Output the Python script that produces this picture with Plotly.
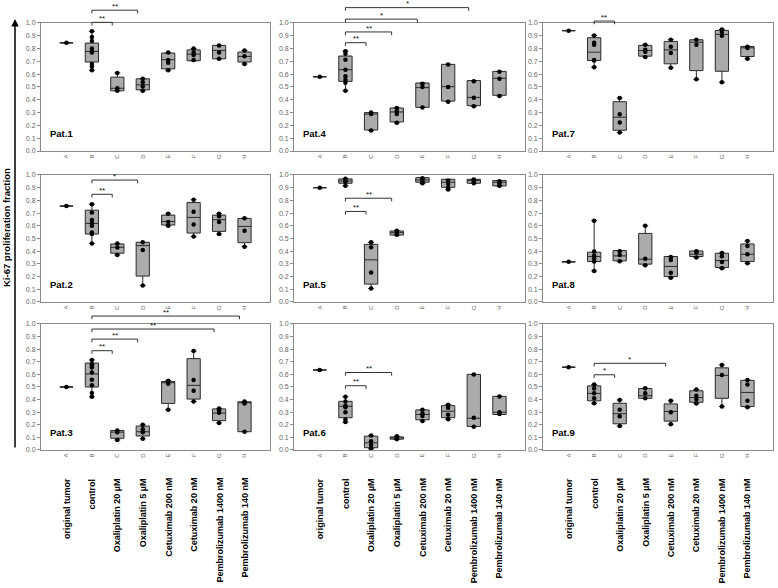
import plotly.graph_objects as go

letters = ["A", "B", "C", "D", "E", "F", "G", "H"]
treatments = ["original tumor", "control", "Oxaliplatin 20 µM", "Oxaliplatin 5 µM",
              "Cetuximab 200 nM", "Cetuximab 20 nM", "Pembrolizumab 1400 nM", "Pembrolizumab 140 nM"]
patients = ["Pat.1", "Pat.2", "Pat.3", "Pat.4", "Pat.5", "Pat.6", "Pat.7", "Pat.8", "Pat.9"]

# individual measurements per treatment (A..H) for each patient
pat1_points = [[0.845], [0.935, 0.89, 0.86, 0.80, 0.78, 0.77, 0.68, 0.66, 0.63], [0.61, 0.49, 0.47],
               [0.564, 0.538, 0.504, 0.47], [0.77, 0.71, 0.69, 0.63], [0.80, 0.77, 0.75, 0.71],
               [0.825, 0.77, 0.72], [0.785, 0.74, 0.68]]
pat1_q1 = [0.845, 0.695, 0.47, 0.478, 0.642, 0.705, 0.72, 0.695]
pat1_med = [0.845, 0.778, 0.49, 0.517, 0.713, 0.757, 0.786, 0.739]
pat1_q3 = [0.845, 0.843, 0.577, 0.564, 0.765, 0.79, 0.825, 0.773]

pat2_points = [[0.755], [0.77, 0.705, 0.645, 0.62, 0.60, 0.548, 0.535, 0.46], [0.46, 0.43, 0.37],
               [0.47, 0.41, 0.13], [0.695, 0.63, 0.60], [0.805, 0.71, 0.61, 0.515],
               [0.695, 0.675, 0.63, 0.535], [0.66, 0.56, 0.435]]
pat2_q1 = [0.755, 0.535, 0.384, 0.204, 0.606, 0.543, 0.556, 0.467]
pat2_med = [0.755, 0.619, 0.431, 0.444, 0.634, 0.666, 0.648, 0.595]
pat2_q3 = [0.755, 0.723, 0.457, 0.47, 0.684, 0.783, 0.684, 0.658]

pat3_points = [[0.50], [0.715, 0.68, 0.67, 0.655, 0.615, 0.557, 0.513, 0.453, 0.422], [0.155, 0.14, 0.08],
               [0.20, 0.165, 0.14, 0.09], [0.55, 0.525, 0.32], [0.785, 0.555, 0.47, 0.385],
               [0.33, 0.315, 0.295, 0.215], [0.385, 0.37, 0.145]]
pat3_q1 = [0.50, 0.50, 0.093, 0.111, 0.37, 0.404, 0.233, 0.145]
pat3_med = [0.50, 0.604, 0.142, 0.145, 0.534, 0.513, 0.293, 0.376]
pat3_q3 = [0.50, 0.69, 0.155, 0.19, 0.544, 0.725, 0.326, 0.383]

pat4_points = [[0.58], [0.78, 0.76, 0.713, 0.635, 0.583, 0.557, 0.534, 0.47], [0.30, 0.29, 0.16],
               [0.335, 0.31, 0.29, 0.22], [0.525, 0.50, 0.34], [0.675, 0.50, 0.385],
               [0.545, 0.415, 0.35], [0.62, 0.565, 0.43]]
pat4_q1 = [0.58, 0.544, 0.164, 0.227, 0.341, 0.39, 0.354, 0.435]
pat4_med = [0.58, 0.635, 0.288, 0.305, 0.495, 0.503, 0.419, 0.568]
pat4_q3 = [0.58, 0.742, 0.30, 0.336, 0.531, 0.677, 0.55, 0.622]

pat5_points = [[0.90], [0.97, 0.95, 0.945, 0.915], [0.47, 0.431, 0.232, 0.107],
               [0.56, 0.545, 0.53], [0.975, 0.96, 0.945, 0.935], [0.955, 0.93, 0.90, 0.885],
               [0.965, 0.945, 0.935], [0.95, 0.935, 0.915]]
pat5_q1 = [0.90, 0.935, 0.141, 0.527, 0.943, 0.903, 0.935, 0.914]
pat5_med = [0.90, 0.953, 0.332, 0.546, 0.961, 0.943, 0.956, 0.943]
pat5_q3 = [0.90, 0.969, 0.454, 0.559, 0.979, 0.966, 0.966, 0.956]

pat6_points = [[0.635], [0.423, 0.384, 0.352, 0.34, 0.30, 0.243, 0.222], [0.115, 0.07, 0.04, 0.01],
               [0.11, 0.095, 0.085], [0.32, 0.29, 0.27, 0.23], [0.36, 0.335, 0.28, 0.245],
               [0.60, 0.255, 0.185], [0.425, 0.30, 0.285]]
pat6_q1 = [0.635, 0.256, 0.018, 0.086, 0.24, 0.256, 0.187, 0.282]
pat6_med = [0.635, 0.347, 0.057, 0.097, 0.282, 0.308, 0.252, 0.30]
pat6_q3 = [0.635, 0.386, 0.11, 0.104, 0.318, 0.352, 0.60, 0.426]

pat7_points = [[0.94], [0.903, 0.846, 0.83, 0.71, 0.707, 0.655], [0.414, 0.288, 0.223, 0.144],
               [0.83, 0.79, 0.775, 0.735], [0.87, 0.815, 0.765, 0.65], [0.87, 0.83, 0.56],
               [0.95, 0.93, 0.90, 0.537], [0.815, 0.805, 0.72]]
pat7_q1 = [0.94, 0.707, 0.162, 0.741, 0.681, 0.628, 0.623, 0.738]
pat7_med = [0.94, 0.772, 0.264, 0.785, 0.79, 0.85, 0.911, 0.806]
pat7_q3 = [0.94, 0.885, 0.385, 0.825, 0.856, 0.869, 0.942, 0.817]

pat8_points = [[0.316], [0.64, 0.397, 0.366, 0.345, 0.319, 0.245], [0.40, 0.37, 0.32],
               [0.60, 0.34, 0.29], [0.355, 0.33, 0.23, 0.19], [0.40, 0.39, 0.35],
               [0.385, 0.36, 0.315, 0.265], [0.48, 0.44, 0.375, 0.305]]
pat8_q1 = [0.316, 0.319, 0.324, 0.298, 0.20, 0.358, 0.272, 0.319]
pat8_med = [0.316, 0.358, 0.363, 0.337, 0.28, 0.376, 0.326, 0.376]
pat8_q3 = [0.316, 0.392, 0.405, 0.54, 0.358, 0.402, 0.384, 0.457]

pat9_points = [[0.657], [0.52, 0.488, 0.45, 0.41, 0.371], [0.397, 0.32, 0.268, 0.19],
               [0.49, 0.45, 0.41], [0.39, 0.30, 0.205], [0.48, 0.43, 0.40, 0.37],
               [0.675, 0.595, 0.345], [0.555, 0.52, 0.39, 0.34]]
pat9_q1 = [0.657, 0.39, 0.208, 0.41, 0.229, 0.379, 0.41, 0.345]
pat9_med = [0.657, 0.449, 0.288, 0.431, 0.306, 0.416, 0.592, 0.457]
pat9_q3 = [0.657, 0.509, 0.371, 0.488, 0.366, 0.47, 0.652, 0.553]

# significance brackets: (from index, to index, bracket height, label)
pat1_sig = [(1, 2, 1.005, "**"), (1, 3, 1.10, "**")]
pat2_sig = [(1, 2, 0.848, "**"), (1, 3, 0.96, "*")]
pat3_sig = [(1, 2, 0.788, "**"), (1, 3, 0.88, "**"), (1, 6, 0.96, "**"), (1, 7, 1.063, "**")]
pat4_sig = [(1, 2, 0.846, "**"), (1, 3, 0.93, "**"), (1, 4, 1.03, "*"), (1, 6, 1.12, "*")]
pat5_sig = [(1, 2, 0.713, "**"), (1, 3, 0.817, "**")]
pat6_sig = [(1, 2, 0.51, "**"), (1, 3, 0.615, "**")]
pat7_sig = [(1, 2, 1.015, "**")]
pat8_sig = []
pat9_sig = [(1, 2, 0.597, "*"), (1, 4, 0.688, "*")]

all_points = [pat1_points, pat2_points, pat3_points, pat4_points, pat5_points,
              pat6_points, pat7_points, pat8_points, pat9_points]
all_q1 = [pat1_q1, pat2_q1, pat3_q1, pat4_q1, pat5_q1, pat6_q1, pat7_q1, pat8_q1, pat9_q1]
all_med = [pat1_med, pat2_med, pat3_med, pat4_med, pat5_med, pat6_med, pat7_med, pat8_med, pat9_med]
all_q3 = [pat1_q3, pat2_q3, pat3_q3, pat4_q3, pat5_q3, pat6_q3, pat7_q3, pat8_q3, pat9_q3]
all_sig = [pat1_sig, pat2_sig, pat3_sig, pat4_sig, pat5_sig, pat6_sig, pat7_sig, pat8_sig, pat9_sig]

W, H = 778, 588
col_dom = [(0.0527, 0.347), (0.378, 0.675), (0.698, 0.9936)]
row_dom = [(0.7432, 0.9609), (0.4864, 0.7024), (0.2347, 0.449)]

FONT = "Liberation Sans, Arial, sans-serif"
AXC = "#8a8a8a"
fig = go.Figure()
layout = dict(width=W, height=H, margin=dict(l=0, r=0, t=0, b=0, autoexpand=False),
              paper_bgcolor="white", plot_bgcolor="white", showlegend=False,
              font=dict(family=FONT, color="#555"))
shapes, annotations = [], []
positions = list(range(len(letters)))

for p in range(9):
    n = p + 1
    sfx = "" if n == 1 else str(n)
    col, row = p // 3, p % 3
    xa, ya = f"x{sfx}", f"y{sfx}"
    pts = all_points[p]
    fig.add_trace(go.Box(
        x=positions, q1=all_q1[p], median=all_med[p], q3=all_q3[p],
        lowerfence=[min(v) for v in pts], upperfence=[max(v) for v in pts],
        width=0.52, whiskerwidth=0.45, boxpoints=False,
        fillcolor="#ababab", line=dict(color="#2a2a2a", width=1),
        xaxis=xa, yaxis=ya, hoverinfo="skip"))
    xs, ys = [], []
    for i, v in enumerate(pts):
        xs += [positions[i]] * len(v)
        ys += v
    fig.add_trace(go.Scatter(x=xs, y=ys, mode="markers",
                             marker=dict(color="black", size=4.5),
                             xaxis=xa, yaxis=ya, cliponaxis=False, hoverinfo="skip"))
    layout[f"xaxis{sfx}"] = dict(domain=col_dom[col], anchor=ya, range=[-1, 8],
                                 tickvals=positions, ticktext=letters, tickangle=-90,
                                 tickfont=dict(size=6, color="#666"), ticks="",
                                 showline=True, mirror=True, linecolor=AXC, linewidth=1,
                                 showgrid=False, zeroline=False, fixedrange=True)
    layout[f"yaxis{sfx}"] = dict(domain=row_dom[row], anchor=xa, range=[0, 1],
                                 dtick=0.1, tick0=0, tickformat=".1f",
                                 tickfont=dict(size=7, color="#666"),
                                 ticks="outside", ticklen=3, tickcolor=AXC,
                                 showline=True, mirror=True, linecolor=AXC, linewidth=1,
                                 showgrid=False, zeroline=False, fixedrange=True)
    annotations.append(dict(text=f"<b>{patients[p]}</b>", xref=f"{xa} domain", yref=f"{ya} domain",
                            x=0.03, y=0.14, xanchor="left", yanchor="middle", showarrow=False,
                            font=dict(size=9.5, color="black", family=FONT)))
    for (i0, i1, yl, lab) in all_sig[p]:
        x0, x1 = i0, i1 - 0.2
        shapes.append(dict(type="path", xref=xa, yref=f"{ya} domain",
                           path=f"M {x0},{yl - 0.025} L {x0},{yl} L {x1},{yl} L {x1},{yl - 0.025}",
                           line=dict(color="#333", width=1)))
        annotations.append(dict(text=lab, xref=xa, yref=f"{ya} domain", x=(x0 + x1) / 2,
                                y=yl + 0.03, xanchor="center", yanchor="middle", showarrow=False,
                                font=dict(size=8, color="#111", family=FONT)))
    if row == 2:
        for i, t in enumerate(treatments):
            annotations.append(dict(text=f"<b>{t}</b>", xref=xa, yref="paper", x=positions[i],
                                    y=(H - 476) / H, textangle=-90, xanchor="center",
                                    yanchor="top", showarrow=False,
                                    font=dict(size=9, color="black", family=FONT)))

annotations.append(dict(text="<b>Ki-67 proliferation fraction</b>", xref="paper", yref="paper",
                        x=6 / W, y=(H - 228) / H, textangle=-90, xanchor="center", yanchor="middle",
                        showarrow=False, font=dict(size=9.5, color="black", family=FONT)))
annotations.append(dict(text="", xref="paper", yref="paper", x=15 / W, y=(H - 19) / H,
                        ax=0, ay=430, showarrow=True, arrowhead=2, arrowsize=1, arrowwidth=1.5,
                        arrowcolor="black"))

layout["shapes"] = shapes
layout["annotations"] = annotations
fig.update_layout(**layout)
fig.write_html("out.html", config={"displayModeBar": False},
               post_script="document.body.style.margin='0';")
